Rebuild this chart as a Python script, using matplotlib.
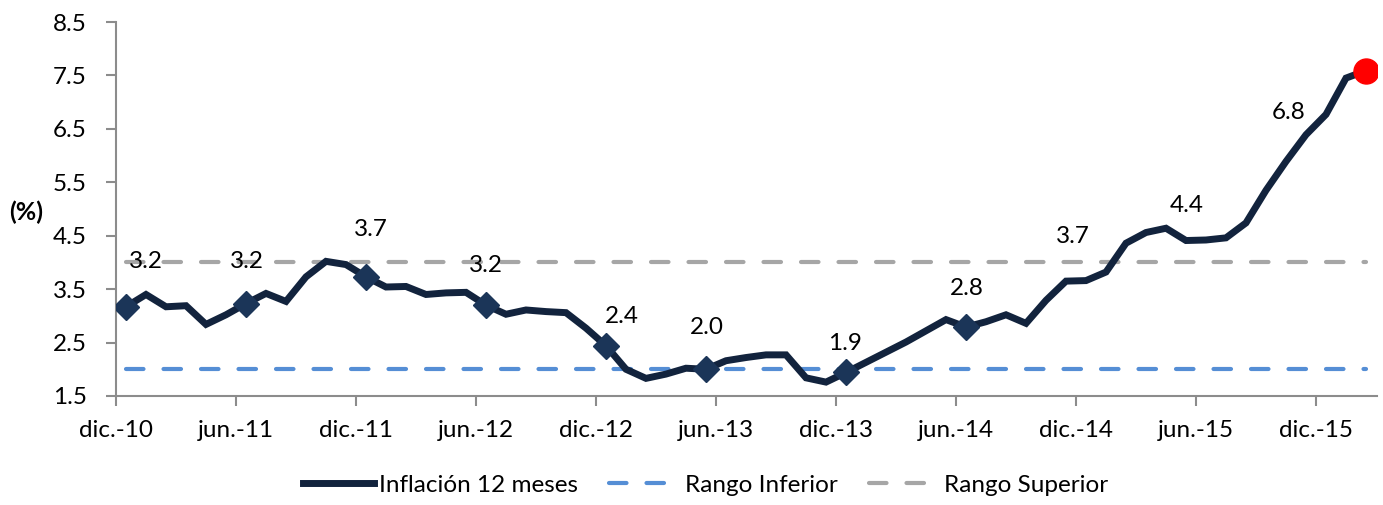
import matplotlib
matplotlib.use("Agg")
import matplotlib.pyplot as plt
from matplotlib.lines import Line2D

# Inflación 12 meses, mensual dic.-10 .. feb.-16
inflacion = [
    3.17,
    3.40, 3.17, 3.19, 2.84, 3.02, 3.23, 3.42, 3.27, 3.73, 4.02, 3.96, 3.73,
    3.54, 3.55, 3.40, 3.43, 3.44, 3.20, 3.03, 3.11, 3.08, 3.06, 2.77, 2.44,
    2.00, 1.83, 1.91, 2.02, 2.00, 2.16, 2.22, 2.27, 2.27, 1.84, 1.76, 1.94,
    2.13, 2.32, 2.51, 2.72, 2.93, 2.79, 2.89, 3.02, 2.86, 3.29, 3.65, 3.66,
    3.82, 4.36, 4.56, 4.64, 4.41, 4.42, 4.46, 4.74, 5.35, 5.89, 6.39, 6.77,
    7.45, 7.59,
]
rango_inf = 2.0
rango_sup = 4.0

tick_labels = ["dic.-10", "jun.-11", "dic.-11", "jun.-12", "dic.-12", "jun.-13",
               "dic.-13", "jun.-14", "dic.-14", "jun.-15", "dic.-15"]
marker_idx = [0, 6, 12, 18, 24, 29, 36, 42]
label_idx = [0, 6, 12, 18, 24, 29, 36, 42, 48, 54, 60]
# posición del texto de cada etiqueta (x en meses, y en %)
label_pos = [(1.0, 4.01), (6.05, 4.01), (12.25, 4.62), (18.0, 3.95), (24.8, 2.98),
             (29.05, 2.78), (35.95, 2.49), (42.05, 3.52), (47.35, 4.48),
             (53.05, 5.06), (58.15, 6.81)]

plt.rcParams['font.family'] = ['Lato', 'DejaVu Sans']
FS = 17.5

fig = plt.figure(figsize=(13.83, 5.05), dpi=100)
ax = fig.add_axes([116 / 1383, 1 - 396 / 505, (1377 - 116) / 1383, (396 - 22) / 505])

x = list(range(len(inflacion)))
navy = "#12233D"

ax.plot([x[0], x[-1]], [rango_inf] * 2, color="#558ED5", lw=3,
        dashes=(4.2, 4.8), dash_capstyle="round", label="Rango Inferior", zorder=2)
ax.plot([x[0], x[-1]], [rango_sup] * 2, color="#A6A6A6", lw=3,
        dashes=(4.2, 4.8), dash_capstyle="round", label="Rango Superior", zorder=2)
ax.plot(x, inflacion, color=navy, lw=5, solid_joinstyle="miter",
        label="Inflación 12 meses", zorder=3)
ax.plot(marker_idx, [inflacion[i] for i in marker_idx], linestyle="none",
        marker="D", ms=13, color="#1B3558", zorder=4)
ax.plot([x[-1]], [inflacion[-1]], linestyle="none", marker="o", ms=18,
        color="#FF0000", zorder=5)

for i, (tx, ty) in zip(label_idx, label_pos):
    ax.text(tx, ty, f"{inflacion[i]:.1f}", ha="center", va="center",
            fontsize=FS, color="black", zorder=6)

ax.set_ylim(1.5, 8.5)
ax.set_yticks([1.5, 2.5, 3.5, 4.5, 5.5, 6.5, 7.5, 8.5])
ax.set_yticklabels(["1.5", "2.5", "3.5", "4.5", "5.5", "6.5", "7.5", "8.5"])
ax.set_xlim(-0.5, 62.55)
ax.set_xticks([6 * k - 0.5 for k in range(len(tick_labels))])
ax.set_xticklabels(tick_labels)

for s in ["top", "right"]:
    ax.spines[s].set_visible(False)
for s in ["left", "bottom"]:
    ax.spines[s].set_color("#8C8C8C")
    ax.spines[s].set_linewidth(1.5)
ax.tick_params(axis="y", length=7, width=1.5, color="#8C8C8C", pad=14, labelsize=FS)
ax.tick_params(axis="x", length=7, width=1.5, color="#8C8C8C", pad=10, labelsize=FS)

fig.text(26 / 1383, 1 - 212 / 505, "(%)", fontsize=18, fontweight="bold",
         ha="center", va="center")

handles = [Line2D([], [], color=navy, lw=5),
           Line2D([], [], color="#558ED5", lw=3, dashes=(4.2, 4.8), dash_capstyle="round"),
           Line2D([], [], color="#A6A6A6", lw=3, dashes=(4.2, 4.8), dash_capstyle="round")]
fig.legend(handles, ["Inflación 12 meses", "Rango Inferior", "Rango Superior"],
           loc="center", bbox_to_anchor=(706 / 1383, 1 - 485 / 505), ncol=3,
           frameon=False, fontsize=FS, handlelength=2.9, handletextpad=0.2,
           columnspacing=1.3)

fig.savefig("out.png", dpi=100)
